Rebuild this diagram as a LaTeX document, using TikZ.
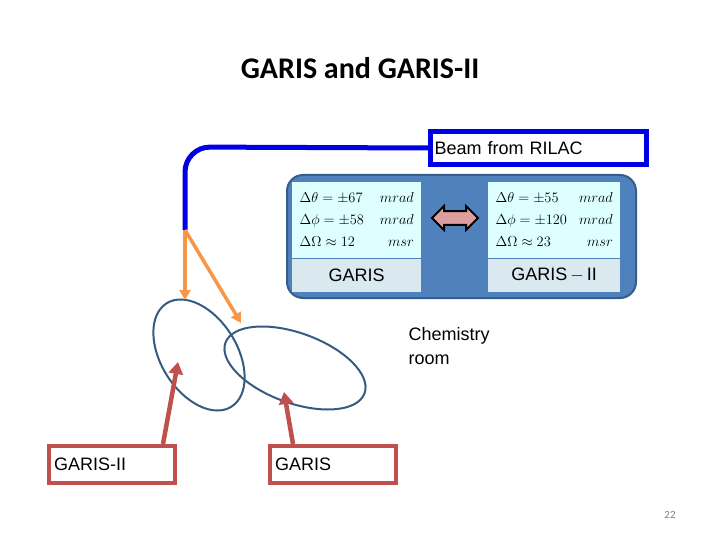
\documentclass[tikz,border=0pt]{standalone}
\usepackage{fontspec}
\setmainfont{Liberation Sans}
\newfontfamily\titlefont{Carlito}
\usetikzlibrary{shapes.geometric,shapes.arrows,arrows.meta}
\definecolor{beamblue}{RGB}{0,0,230}
\definecolor{panelblue}{RGB}{79,129,189}
\definecolor{paneledge}{RGB}{56,93,138}
\definecolor{cellcyan}{RGB}{221,255,255}
\definecolor{labelgray}{RGB}{218,232,240}
\definecolor{garisred}{RGB}{192,80,77}
\definecolor{beamorange}{RGB}{247,150,70}
\definecolor{ringblue}{RGB}{55,90,130}
\tikzset{
  databox/.style={fill=cellcyan, minimum width=129pt, minimum height=76pt, inner sep=2pt,
    font=\fontsize{14}{17}\selectfont},
  namebox/.style={fill=labelgray, minimum width=129pt, minimum height=33pt, font=\fontsize{18}{20}\selectfont},
  ring/.style={draw=ringblue, line width=2pt, ellipse},
  redbox/.style={draw=garisred, line width=4pt, minimum width=126pt, minimum height=37pt, font=\fontsize{18}{20}\selectfont},
  redarrow/.style={garisred, line width=4.5pt, -{Triangle[length=12pt,width=14pt]}},
  orangearrow/.style={beamorange, line width=3.5pt, -{Triangle[length=10pt,width=11pt]}},
}
\renewcommand{\arraystretch}{1.3}
\begin{document}
\begin{tikzpicture}[x=1pt,y=-1pt]
  \useasboundingbox (0,0) rectangle (720,540);

  % Title
  \node[font=\titlefont\bfseries\fontsize{30}{34}\selectfont] (title) at (360,68) {GARIS and GARIS-II};

  % Beam box and beam line
  \node[draw=beamblue, line width=5pt, minimum width=216pt, minimum height=33pt, anchor=north west,
        font=\fontsize{18}{20}\selectfont, text width=208pt, inner sep=3pt] (beam) at (428,129) {Beam from RILAC};
  \coordinate (bend) at (185,230);
  \draw[beamblue, line width=5pt, rounded corners=25pt] (beam.west) -- (185,147) -- (bend);

  % Comparison panel
  \draw[paneledge, line width=2pt, fill=panelblue, rounded corners=16pt] (287,175) rectangle (636,298);
  \node[databox, anchor=north west] (gdata) at (292,182) {\begin{tabular}{@{}l@{\hspace{16pt}}r@{}}
    $\Delta\theta=\pm67$ & $mrad$\\ $\Delta\phi=\pm58$ & $mrad$\\ $\Delta\Omega\approx12$ & $msr$\end{tabular}};
  \node[namebox, anchor=north] (gname) at (gdata.south) {GARIS};
  \node[databox, anchor=north west, minimum width=132pt] (g2data) at (488,182) {\begin{tabular}{@{}l@{\hspace{12pt}}r@{}}
    $\Delta\theta=\pm55$ & $mrad$\\ $\Delta\phi=\pm120$ & $mrad$\\ $\Delta\Omega\approx23$ & $msr$\end{tabular}};
  \node[namebox, anchor=north, minimum width=132pt] (g2name) at (g2data.south) {GARIS\,$-$\,II};
  \node[double arrow, draw=black, line width=2pt, fill=garisred!55, minimum width=24pt,
        double arrow head extend=3pt, minimum height=46pt, inner sep=3pt] (swap) at (455,218) {};

  % Separators
  \node[ring, minimum width=122pt, minimum height=76pt, rotate=-58] (ring1) at (199,355) {};
  \node[ring, minimum width=148pt, minimum height=70pt, rotate=-20] (ring2) at (295,368) {};

  % Beam branches
  \coordinate (in1) at (185,300);
  \coordinate (in2) at (241,323);
  \draw[orangearrow] (bend) -- (in1);
  \draw[orangearrow] (bend) -- (in2);

  % Labels and arrows
  \node[redbox, anchor=north west, text width=116pt] (g2box) at (47,444) {GARIS-II};
  \node[redbox, anchor=north west, text width=116pt] (gbox) at (268,444) {GARIS};
  \coordinate (t1) at (178,362);
  \coordinate (t2) at (284,392);
  \draw[redarrow] (g2box.north east) ++(-14,0) coordinate (s1) -- (t1);
  \draw[redarrow] (gbox.north west) ++(25,0) coordinate (s2) -- (t2);

  \node[anchor=north west, align=left, font=\fontsize{18}{24}\selectfont] (chem) at (405,324) {Chemistry\\room};
  \node[text=gray, font=\titlefont\fontsize{11}{13}\selectfont] (page) at (670,515) {22};
\end{tikzpicture}
\end{document}
